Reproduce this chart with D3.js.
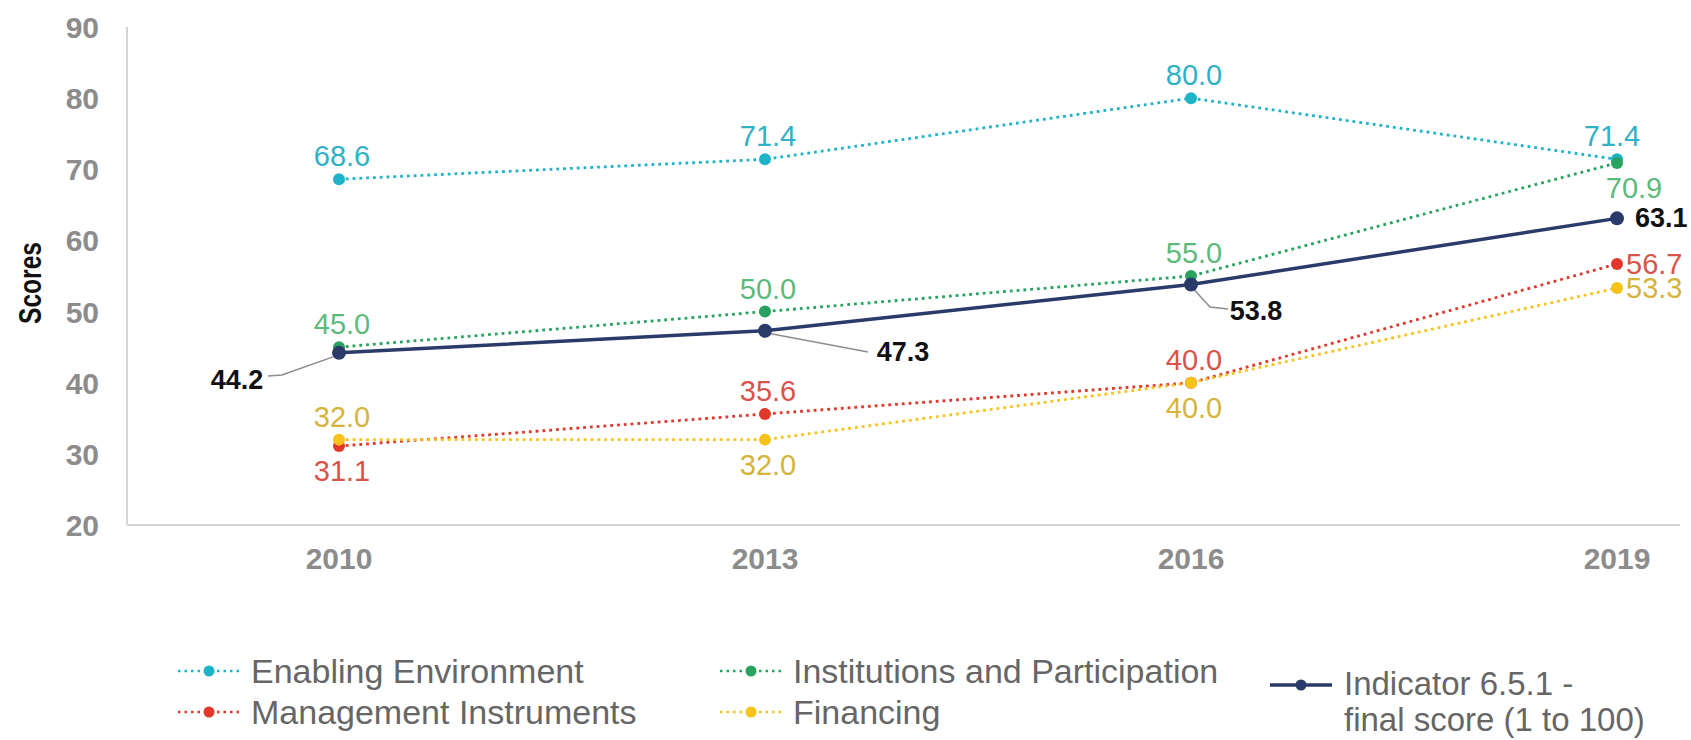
<!DOCTYPE html>
<html>
<head>
<meta charset="utf-8">
<script src="https://cdn.jsdelivr.net/npm/d3@7"></script>
<style>
  html, body { margin: 0; padding: 0; background: #fff; }
  svg { display: block; }
  .narrow { font-family: "Liberation Sans Narrow", "Arial Narrow", "Liberation Sans", Arial, sans-serif; }
</style>
</head>
<body>
<div id="chart"></div>
<script>
// 年份与各系列得分
const years = ['2010', '2013', '2016', '2019'];
const enablingEnv = [68.6, 71.4, 80.0, 71.4];
const institutions = [45.0, 50.0, 55.0, 70.9];
const management = [31.1, 35.6, 40.0, 56.7];
const financing = [32.0, 32.0, 40.0, 53.3];
const indicator = [44.2, 47.3, 53.8, 63.1];
const yTicks = [20, 30, 40, 50, 60, 70, 80, 90];

const width = 1691, height = 740;

const svg = d3.select('#chart').append('svg')
  .attr('width', width)
  .attr('height', height);

const x = d3.scalePoint().domain(years).range([339, 1617]);
const y = d3.scaleLinear().domain([20, 90]).range([525, 27]);

// 坐标轴
svg.append('line')
  .attr('x1', 127).attr('x2', 127)
  .attr('y1', y(90)).attr('y2', y(20))
  .attr('stroke', '#d4d4d4').attr('stroke-width', 2);
svg.append('line')
  .attr('x1', 127).attr('x2', 1680)
  .attr('y1', y(20)).attr('y2', y(20))
  .attr('stroke', '#d4d4d4').attr('stroke-width', 2);

svg.append('g').selectAll('text')
  .data(yTicks).enter().append('text')
  .attr('x', 99)
  .attr('y', d => y(d) + 11)
  .attr('text-anchor', 'end')
  .attr('font-family', 'Liberation Sans, Arial, sans-serif')
  .attr('font-weight', 'bold')
  .attr('font-size', 30)
  .attr('fill', '#8c8c8c')
  .text(d => d);

svg.append('g').selectAll('text')
  .data(years).enter().append('text')
  .attr('x', d => x(d))
  .attr('y', 569)
  .attr('text-anchor', 'middle')
  .attr('font-family', 'Liberation Sans, Arial, sans-serif')
  .attr('font-weight', 'bold')
  .attr('font-size', 30)
  .attr('fill', '#8c8c8c')
  .text(d => d);

// Y轴标题（压缩字形，接近原图的窄体字）
svg.append('text')
  .attr('class', 'narrow')
  .attr('transform', 'translate(41,283) rotate(-90)')
  .attr('text-anchor', 'middle')
  .attr('font-weight', 'bold')
  .attr('font-size', 31)
  .attr('textLength', 82)
  .attr('lengthAdjust', 'spacingAndGlyphs')
  .attr('fill', '#111')
  .text('Scores');

// 系列配置（label: a=上方, b=下方, r=右侧）
const series = [
  { name: 'Enabling Environment', values: enablingEnv, color: '#1fb3c8', text: '#2fb2c6', pos: ['a', 'a', 'a', 'a'] },
  { name: 'Institutions and Participation', values: institutions, color: '#27a35f', text: '#5dba7d', pos: ['a', 'a', 'a', 'b'] },
  { name: 'Management Instruments', values: management, color: '#e2372b', text: '#d9534a', pos: ['b', 'a', 'a', 'r'] },
  { name: 'Financing', values: financing, color: '#f7c31a', text: '#d6b43c', pos: ['a', 'b', 'b', 'r'] }
];

const line = d3.line()
  .x((d, i) => x(years[i]))
  .y(d => y(d));

series.forEach(s => {
  svg.append('path')
    .datum(s.values)
    .attr('d', line)
    .attr('fill', 'none')
    .attr('stroke', s.color)
    .attr('stroke-width', 2.8)
    .attr('stroke-dasharray', '2.8,4');
});

// 总指标线
svg.append('path')
  .datum(indicator)
  .attr('d', line)
  .attr('fill', 'none')
  .attr('stroke', '#2a3b69')
  .attr('stroke-width', 3.5);

// 指引线
const leaders = [
  [[x('2010') - 6, y(44.2) + 4], [282, 375], [268, 376]],
  [[x('2013') + 6, y(47.3) + 3], [868, 352]],
  [[x('2016') + 3, y(53.8) + 5], [1210, 307], [1228, 309]]
];
leaders.forEach(pts => {
  svg.append('path')
    .attr('d', d3.line()(pts))
    .attr('fill', 'none')
    .attr('stroke', '#8d8d8d')
    .attr('stroke-width', 1.5);
});

// 数据点
series.forEach(s => {
  svg.append('g').selectAll('circle')
    .data(s.values).enter().append('circle')
    .attr('cx', (d, i) => x(years[i]))
    .attr('cy', d => y(d))
    .attr('r', 6)
    .attr('fill', s.color);
});
svg.append('g').selectAll('circle')
  .data(indicator).enter().append('circle')
  .attr('cx', (d, i) => x(years[i]))
  .attr('cy', d => y(d))
  .attr('r', 7)
  .attr('fill', '#2a3b69');

// 数据标签
series.forEach(s => {
  svg.append('g').selectAll('text')
    .data(s.values).enter().append('text')
    .attr('x', (d, i) => {
      const p = s.pos[i];
      if (p === 'r') return x(years[i]) + 9;
      if (i === 3 && p === 'b') return x(years[i]) + 17;
      if (i === 3) return x(years[i]) - 5;
      return x(years[i]) + 3;
    })
    .attr('y', (d, i) => {
      const p = s.pos[i];
      if (p === 'a') return y(d) - 13;
      if (p === 'b') return y(d) + 35;
      return y(d) + 10;
    })
    .attr('text-anchor', (d, i) => s.pos[i] === 'r' ? 'start' : 'middle')
    .attr('font-family', 'Liberation Sans, Arial, sans-serif')
    .attr('font-size', 29)
    .attr('fill', s.text)
    .text(d => d.toFixed(1));
});

const indLabelPos = [[237, 389, 'middle'], [903, 361, 'middle'], [1256, 320, 'middle'], [x('2019') + 18, y(63.1) + 9, 'start']];
svg.append('g').selectAll('text')
  .data(indicator).enter().append('text')
  .attr('class', 'narrow')
  .attr('x', (d, i) => indLabelPos[i][0])
  .attr('y', (d, i) => indLabelPos[i][1])
  .attr('text-anchor', (d, i) => indLabelPos[i][2])
  .attr('font-weight', 'bold')
  .attr('font-size', 27)
  .attr('fill', '#111')
  .text(d => d.toFixed(1));

// 图例
const legendItems = [
  { s: series[0], lx: 178, ly: 671 },
  { s: series[1], lx: 720, ly: 671 },
  { s: series[2], lx: 178, ly: 712 },
  { s: series[3], lx: 720, ly: 712 }
];
const legend = svg.append('g').attr('class', 'legend');
legendItems.forEach(item => {
  const g = legend.append('g').attr('transform', `translate(${item.lx},${item.ly})`);
  g.append('line')
    .attr('x1', 0).attr('x2', 62)
    .attr('stroke', item.s.color)
    .attr('stroke-width', 2.5)
    .attr('stroke-dasharray', '2.5,4');
  g.append('circle').attr('cx', 31).attr('r', 5.5).attr('fill', item.s.color);
  g.append('text')
    .attr('class', 'narrow')
    .attr('x', 73)
    .attr('y', 12)
    .attr('font-size', 34)
    .attr('fill', '#666')
    .text(item.s.name);
});

const indLegend = legend.append('g').attr('transform', 'translate(1270,685)');
indLegend.append('line').attr('x1', 0).attr('x2', 62)
  .attr('stroke', '#2a3b69').attr('stroke-width', 3.5);
indLegend.append('circle').attr('cx', 31).attr('r', 5.5).attr('fill', '#2a3b69');
const indText = indLegend.append('text')
  .attr('class', 'narrow')
  .attr('x', 74)
  .attr('font-size', 33)
  .attr('fill', '#666');
indText.append('tspan').attr('x', 74).attr('y', 10).text('Indicator 6.5.1 -');
indText.append('tspan').attr('x', 74).attr('y', 46).text('final score (1 to 100)');
</script>
</body>
</html>
